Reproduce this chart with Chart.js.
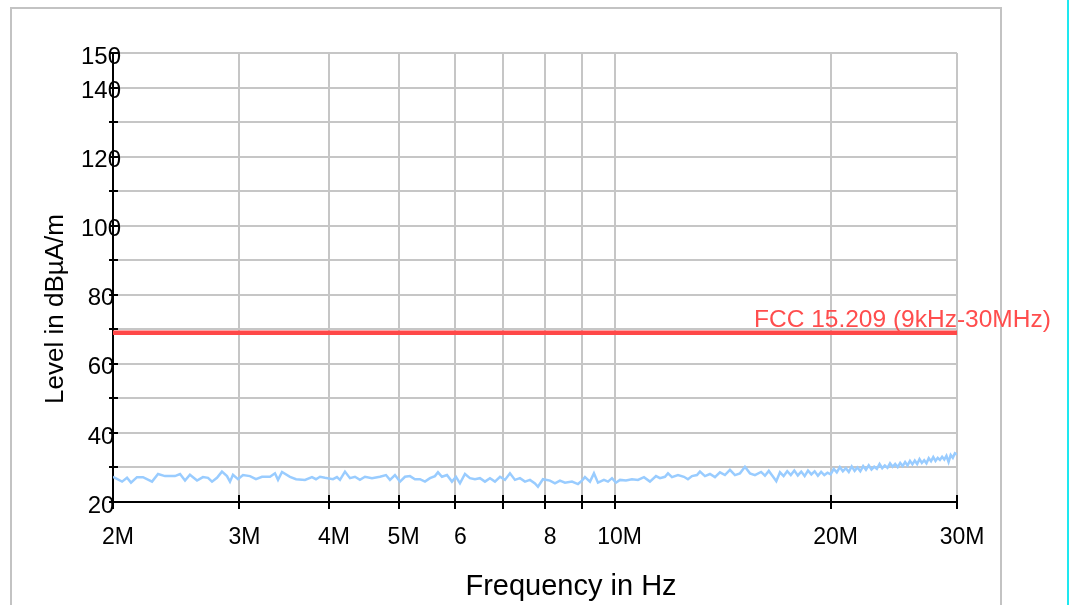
<!DOCTYPE html>
<html lang="en">
<head>
  <meta charset="UTF-8" />
  <title>Level in dBµA/m vs Frequency</title>
  <script src="https://cdn.jsdelivr.net/npm/chart.js"></script>
  <style>
    html, body { margin: 0; padding: 0; background: #fff; overflow: hidden; }
    #frame {
      position: absolute; left: 10px; top: 7px; width: 988px; height: 700px;
      border: 2px solid #c3c3c3; border-bottom: none;
    }
    #edge { position: absolute; left: 1067px; top: 0; width: 2px; height: 605px; background: #1ee8f0; }
    #plot { position: absolute; left: 0; top: 0; }
  </style>
</head>
<body>
  <div id="frame"></div>
  <div id="edge"></div>
  <canvas id="plot" width="1070" height="605"></canvas>

  <script>
    const freqMHz = [
      2.000, 2.059, 2.092, 2.119, 2.160, 2.202, 2.267, 2.311, 2.363, 2.440, 2.480, 2.520, 2.560,
      2.619, 2.669, 2.713, 2.748, 2.792, 2.837, 2.883, 2.911, 2.939, 2.987, 3.035, 3.104, 3.164,
      3.226, 3.310, 3.363, 3.396, 3.440, 3.529, 3.598, 3.703, 3.787, 3.836, 3.886, 3.948,
      4.051, 4.103, 4.143, 4.210, 4.278, 4.347, 4.417, 4.489, 4.591, 4.710, 4.802, 4.864, 4.942,
      5.023, 5.104, 5.186, 5.270, 5.355, 5.442, 5.530, 5.619, 5.674, 5.747, 5.840, 5.934, 6.011,
      6.089, 6.187, 6.287, 6.389, 6.492, 6.597, 6.704, 6.812, 6.923, 7.034, 7.148, 7.264, 7.381,
      7.501, 7.622, 7.745, 7.820, 7.946,
      8.127, 8.258, 8.392, 8.528, 8.722, 8.891, 9.005, 9.093, 9.240, 9.359, 9.480, 9.664, 9.790,
      9.916, 10.043, 10.174, 10.371, 10.573, 10.778, 10.988, 11.201, 11.420, 11.567, 11.753, 11.868,
      12.021, 12.255, 12.492, 12.653, 12.818, 13.024, 13.150, 13.363, 13.579, 13.799, 14.022, 14.248,
      14.479, 14.713, 14.951, 15.193, 15.438, 15.688,
      16.0, 16.2, 16.4, 16.6, 16.8, 17.0, 17.2, 17.4, 17.6, 17.8, 18.0, 18.2, 18.4, 18.6, 18.8,
      19.0, 19.2, 19.4, 19.6, 19.8, 20.0, 20.2, 20.4, 20.6, 20.8, 21.0, 21.2, 21.4, 21.6, 21.8,
      22.0, 22.2, 22.4, 22.6, 22.8, 23.0, 23.2, 23.4, 23.6, 23.8, 24.0, 24.2, 24.4, 24.6, 24.8,
      25.0, 25.2, 25.4, 25.6, 25.8, 26.0, 26.2, 26.4, 26.6, 26.8, 27.0, 27.2, 27.4, 27.6, 27.8,
      28.0, 28.2, 28.4, 28.6, 28.8, 29.0, 29.2, 29.4, 29.6, 29.8, 30.0
    ];
    const levelDb = [
      27.3, 25.9, 27.0, 25.6, 27.2, 27.2, 25.9, 28.1, 27.5, 27.5, 28.1, 26.2, 27.9,
      26.2, 27.2, 27.0, 25.9, 27.0, 28.8, 27.5, 25.9, 27.9, 26.6, 27.8, 27.5, 26.6,
      27.3, 27.3, 28.3, 26.4, 28.7, 27.3, 26.6, 26.4, 27.2, 26.6, 27.3, 27.0,
      26.6, 27.2, 26.4, 28.8, 26.9, 27.3, 26.4, 27.3, 26.9, 27.3, 27.8, 26.4, 27.8,
      25.9, 27.3, 27.5, 26.6, 26.6, 25.9, 26.9, 27.5, 28.6, 27.3, 27.8, 25.9, 27.3,
      25.4, 28.1, 26.9, 26.6, 26.9, 25.9, 26.9, 25.9, 27.3, 26.4, 28.3, 26.4, 26.9,
      25.9, 26.4, 25.4, 24.4, 26.6,
      26.2, 25.4, 26.2, 25.6, 25.9, 25.2, 26.2, 27.2, 25.9, 28.3, 25.6, 26.4, 25.9,
      26.9, 25.6, 26.4, 26.2, 26.6, 26.4, 27.2, 25.9, 27.5, 26.9, 27.3, 28.3,
      27.2, 27.8, 27.3, 26.6, 27.5, 27.8, 28.8, 27.5, 28.1, 27.2, 28.6, 27.8,
      29.3, 27.8, 28.3, 30.2, 28.3, 27.8,
      28.7, 27.6, 29.0, 27.5, 26.0, 28.6, 27.5, 28.9, 27.8, 29.1, 27.7, 28.8, 27.5, 29.1, 28.0,
      28.9, 27.6, 28.7, 27.8, 28.5, 28.0, 29.6, 28.6, 30.1, 28.9, 29.8, 28.7, 30.3, 29.0, 30.0,
      28.9, 30.4, 29.3, 30.6, 29.4, 30.2, 29.6, 31.0, 29.8, 30.6, 29.9, 31.2, 30.2, 31.0, 30.1,
      31.3, 30.4, 31.6, 30.6, 31.9, 30.9, 32.0, 31.0, 32.4, 31.3, 32.1, 31.2, 32.7, 31.8, 33.0,
      31.9, 32.8, 32.2, 33.1, 32.3, 33.4, 31.6, 33.6, 32.8, 34.1, 33.8
    ];

    // --- limit line ---
    const limitName  = 'FCC 15.209 (9kHz-30MHz)';
    const limitFreq  = [2, 30];
    const limitLevel = [69, 69];

    // --- axes ---
    const xTickValues = [2, 3, 4, 5, 6, 7, 8, 9, 10, 20, 30];
    const xTickLabels = ['2M', '3M', '4M', '5M', '6', '', '8', '', '10M', '20M', '30M'];
    const yLabelled   = [20, 40, 60, 80, 100, 120, 140, 150];

    const FONT = '"Liberation Sans", Arial, sans-serif';
    const GRID = '#c6c6c6';

    // black tick marks crossing the axes, y labels (they overlap the axis), limit label, titles
    const decor = {
      id: 'decor',
      afterDraw(chart) {
        const { ctx, chartArea: a, scales: { x, y } } = chart;
        ctx.save();
        ctx.strokeStyle = '#000';
        ctx.lineWidth = 2;
        ctx.beginPath();
        y.ticks.forEach(t => {
          const py = Math.round(y.getPixelForValue(t.value));
          ctx.moveTo(a.left - 4, py); ctx.lineTo(a.left + 5, py);
        });
        x.ticks.forEach(t => {
          const px = Math.round(x.getPixelForValue(t.value));
          ctx.moveTo(px, a.bottom - 7); ctx.lineTo(px, a.bottom + 7);
        });
        ctx.stroke();

        ctx.fillStyle = '#000';
        ctx.font = '24px ' + FONT;
        ctx.textAlign = 'center';
        ctx.textBaseline = 'middle';
        yLabelled.forEach(v => ctx.fillText(String(v), a.left - 12, y.getPixelForValue(v) + 4));

        ctx.textBaseline = 'alphabetic';
        ctx.fillStyle = '#ff4d4d';
        ctx.font = '24.5px ' + FONT;
        ctx.textAlign = 'left';
        ctx.fillText(limitName, a.right - 203, y.getPixelForValue(limitLevel[1]) - 6);

        ctx.fillStyle = '#000';
        ctx.font = '29px ' + FONT;
        ctx.textAlign = 'center';
        ctx.fillText('Frequency in Hz', (a.left + a.right) / 2 + 36, 595);

        ctx.translate(63, 309);
        ctx.rotate(-Math.PI / 2);
        ctx.font = '26px ' + FONT;
        ctx.fillText('Level in dBµA/m', 0, 0);
        ctx.restore();
      }
    };

    new Chart(document.getElementById('plot'), {
      type: 'line',
      data: {
        datasets: [{
          label: 'Level',
          data: freqMHz.map((f, i) => ({ x: f, y: levelDb[i] })),
          borderColor: '#99ccff',
          borderWidth: 2.5,
          pointRadius: 0,
          tension: 0
        }, {
          label: limitName,
          data: limitFreq.map((f, i) => ({ x: f, y: limitLevel[i] })),
          borderColor: '#ff4848',
          borderWidth: 4.5,
          pointRadius: 0
        }]
      },
      options: {
        responsive: false,
        animation: false,
        devicePixelRatio: 1,
        layout: { padding: { top: 53, right: 113, left: 0, bottom: 0 } },
        plugins: { legend: { display: false }, tooltip: { enabled: false } },
        scales: {
          x: {
            type: 'logarithmic',
            min: 2, max: 30,
            afterBuildTicks: s => { s.ticks = xTickValues.map(v => ({ value: v })); },
            afterFit: s => { s.height = 103; },
            ticks: {
              autoSkip: false, maxRotation: 0, minRotation: 0,
              callback: (v, i) => xTickLabels[i],
              color: '#000', font: { family: FONT, size: 23 },
              padding: 22, labelOffset: 5
            },
            grid: { color: GRID, lineWidth: 2, drawTicks: false },
            border: { color: '#000', width: 2 }
          },
          y: {
            min: 20, max: 150,
            afterFit: s => { s.width = 113; },
            ticks: { stepSize: 10, display: false },
            grid: { color: GRID, lineWidth: 2, drawTicks: false },
            border: { color: '#000', width: 2 }
          }
        }
      },
      plugins: [decor]
    });
  </script>
</body>
</html>
